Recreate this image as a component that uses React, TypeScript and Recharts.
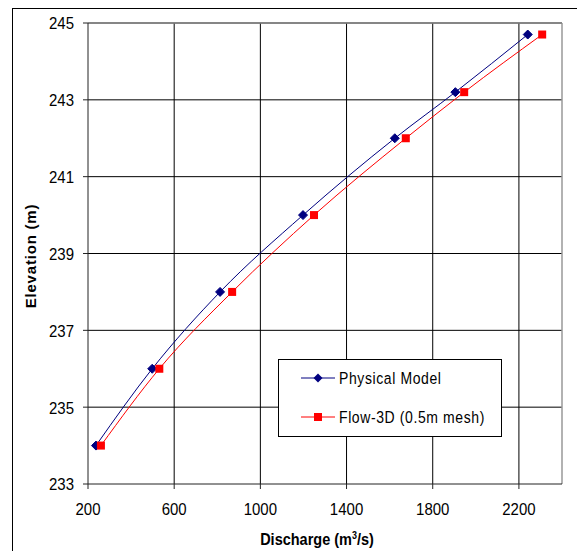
import React from 'react';
import { LineChart, Line, XAxis, YAxis, CartesianGrid, ReferenceLine } from 'recharts';

const xTicks = [200, 600, 1000, 1400, 1800, 2200];
const yTicks = [233, 235, 237, 239, 241, 243, 245];

const physicalQ = [237, 498, 813, 1198, 1624, 1905, 2241];
const physicalZ = [234, 236, 238, 240, 242, 243.2, 244.7];
const flowQ = [260, 531, 869, 1249, 1675, 1946, 2308];
const flowZ = [234, 236, 238, 240, 242, 243.2, 244.7];

const physicalData = physicalQ.map((x, i) => ({ x, y: physicalZ[i] }));
const flowData = flowQ.map((x, i) => ({ x, y: flowZ[i] }));

const BLUE = '#000080';
const RED = '#FF0000';
const FONT = '"Liberation Sans", Arial, sans-serif';

const Diamond = (props: any) => {
  const { cx, cy } = props;
  if (cx == null || cy == null) return null;
  const r = 4.5;
  return <polygon points={`${cx},${cy - r} ${cx + r},${cy} ${cx},${cy + r} ${cx - r},${cy}`} fill={BLUE} stroke={BLUE} />;
};

const Square = (props: any) => {
  const { cx, cy } = props;
  if (cx == null || cy == null) return null;
  return <rect x={cx - 4} y={cy - 4} width={8} height={8} fill={RED} />;
};

const XTick = (props: any) => {
  const { x, payload } = props;
  return (
    <text transform={`translate(${x}, 509) scale(1, 1.15)`} textAnchor="middle" dominantBaseline="central" fontFamily={FONT} fontSize={15} fill="#000">
      {payload.value}
    </text>
  );
};

const YTick = (props: any) => {
  const { y, payload } = props;
  return (
    <text transform={`translate(74, ${y}) scale(1, 1.15)`} textAnchor="end" dominantBaseline="central" fontFamily={FONT} fontSize={15} fill="#000">
      {payload.value}
    </text>
  );
};

const legendItems = [
  { name: 'Physical Model', color: BLUE, kind: 'diamond' },
  { name: 'Flow-3D (0.5m mesh)', color: RED, kind: 'square' },
];

const LegendBox = () => (
  <div style={{ position: 'absolute', left: 278, top: 359, zIndex: 3, width: 224, height: 78, border: '1px solid #000', background: '#fff', boxSizing: 'border-box', fontFamily: FONT, fontSize: 14 }}>
    {legendItems.map((it, i) => (
      <div key={it.name} style={{ position: 'absolute', left: 22, top: 9 + i * 38.5, height: 18, display: 'flex', alignItems: 'center' }}>
        <svg width={34} height={12} style={{ marginRight: 4 }}>
          <line x1={0} y1={6} x2={34} y2={6} stroke={it.color} strokeWidth={1} />
          {it.kind === 'diamond' ? (
            <polygon points="17,1.5 21.5,6 17,10.5 12.5,6" fill={it.color} />
          ) : (
            <rect x={13} y={2} width={8} height={8} fill={it.color} />
          )}
        </svg>
        <span style={{ color: '#000', letterSpacing: 0.6, display: 'inline-block', transform: 'scaleY(1.12)' }}>{it.name}</span>
      </div>
    ))}
  </div>
);

const XTitle = () => {
  return (
    <text transform="translate(317, 545) scale(1, 1.15)" textAnchor="middle" fontFamily={FONT} fontWeight="bold" fontSize={14.5} fill="#000">
      <tspan>Discharge (m</tspan>
      <tspan dy={-5} fontSize={9}>3</tspan>
      <tspan dy={5}>/s)</tspan>
    </text>
  );
};

const YTitle = () => {
  return (
    <text x={0} y={0} transform={`translate(36, 256) rotate(-90)`} textAnchor="middle" fontFamily={FONT} fontWeight="bold" fontSize={15} letterSpacing={0.8} fill="#000">
      Elevation (m)
    </text>
  );
};

export default function App() {
  return (
    <div style={{ position: 'absolute', left: 0, top: 0, width: 577, height: 551, overflow: 'hidden', background: '#fff' }}>
      <div style={{ position: 'absolute', left: 12, top: 8, width: 620, height: 620, border: '1.5px solid #000', boxSizing: 'border-box', pointerEvents: 'none', zIndex: 2 }} />
      <LineChart width={577} height={551} margin={{ top: 23, right: 15, bottom: 17, left: 12 }}>
        <CartesianGrid stroke="#000" strokeWidth={1} verticalValues={[600, 1000, 1400, 1800, 2200]} horizontalValues={[235, 237, 239, 241, 243, 245]} />
        <XAxis
          type="number"
          dataKey="x"
          domain={[200, 2400]}
          ticks={xTicks}
          allowDataOverflow
          stroke="#222"
          tickSize={5}
          height={50}
          tick={<XTick />}
          label={<XTitle />}
        />
        <YAxis
          type="number"
          dataKey="y"
          domain={[233, 245]}
          ticks={yTicks}
          allowDataOverflow
          stroke="#222"
          tickSize={5}
          width={76}
          tick={<YTick />}
          label={<YTitle />}
        />
        <ReferenceLine x={2400} stroke="#999" strokeWidth={1.5} />
        <ReferenceLine y={245} stroke="#888" strokeWidth={1.5} />
        <Line data={physicalData} dataKey="y" name="Physical Model" type="monotone" stroke={BLUE} strokeWidth={1} dot={<Diamond />} activeDot={false} isAnimationActive={false} />
        <Line data={flowData} dataKey="y" name="Flow-3D (0.5m mesh)" type="monotone" stroke={RED} strokeWidth={1} dot={<Square />} activeDot={false} isAnimationActive={false} />
      </LineChart>
      <LegendBox />
    </div>
  );
}
